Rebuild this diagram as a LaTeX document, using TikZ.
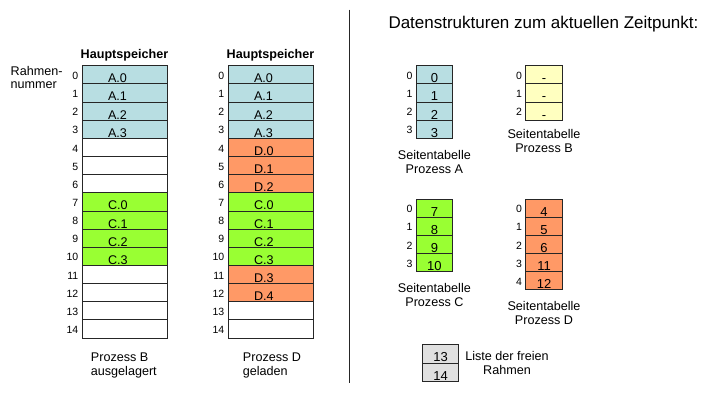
\documentclass[tikz,border=0pt]{standalone}
\usepackage{fontspec}
\setmainfont{Liberation Sans}
\usetikzlibrary{positioning}
\definecolor{pageA}{RGB}{184,222,226}
\definecolor{pageB}{RGB}{255,255,192}
\definecolor{pageC}{RGB}{153,255,51}
\definecolor{pageD}{RGB}{255,153,102}
\definecolor{freegray}{RGB}{224,224,224}
\tikzset{
  memcell/.style={
    rectangle,
    draw=black!85,
    line width=0.8pt,
    fill=white,
    minimum height=18.15pt,
    text width=85pt,
    inner sep=0pt,
    outer sep=0pt,
    text height=16pt,
    text depth=0pt,
    font=\fontsize{12.6}{14}\selectfont,
    execute at begin node={\noindent\hspace*{26pt}}
  },
  tabcell/.style={
    rectangle,
    draw=black!85,
    line width=0.8pt,
    minimum width=36.7pt,
    minimum height=18.15pt,
    inner sep=0pt,
    outer sep=0pt,
    text height=16pt,
    text depth=0pt,
    font=\fontsize{13}{14}\selectfont
  },
  rownum/.style={
    inner sep=0pt,
    yshift=-1pt,
    font=\fontsize{10.5}{12}\selectfont
  },
  caption/.style={
    inner sep=0pt,
    align=center,
    font=\fontsize{12.6}{14}\selectfont
  },
  heading/.style={
    inner sep=0pt,
    font=\fontsize{12.6}{14}\selectfont\bfseries
  }
}
\begin{document}
\begin{tikzpicture}[x=1pt, y=-1pt, label distance=3.5pt]
  \useasboundingbox (0,0) rectangle (704,402);

  % title and divider
  \node[anchor=base west, inner sep=0pt, font=\fontsize{17}{20}\selectfont] (title) at (388.3,28.3) {Datenstrukturen zum aktuellen Zeitpunkt:};
  \coordinate (divtop) at (349.5,9.5);
  \coordinate (divbot) at (349.5,383);
  \draw[black!85, line width=1pt] (divtop) -- (divbot);

  % main memory, process B swapped out
  \node[memcell, fill=pageA, label={[rownum]left:0}] (lm0) at (124.5,74.8) {A.0};
  \node[memcell, fill=pageA, label={[rownum]left:1}, below=0pt of lm0] (lm1) {A.1};
  \node[memcell, fill=pageA, label={[rownum]left:2}, below=0pt of lm1] (lm2) {A.2};
  \node[memcell, fill=pageA, label={[rownum]left:3}, below=0pt of lm2] (lm3) {A.3};
  \node[memcell, label={[rownum]left:4}, below=0pt of lm3] (lm4) {};
  \node[memcell, label={[rownum]left:5}, below=0pt of lm4] (lm5) {};
  \node[memcell, label={[rownum]left:6}, below=0pt of lm5] (lm6) {};
  \node[memcell, fill=pageC, label={[rownum]left:7}, below=0pt of lm6] (lm7) {C.0};
  \node[memcell, fill=pageC, label={[rownum]left:8}, below=0pt of lm7] (lm8) {C.1};
  \node[memcell, fill=pageC, label={[rownum]left:9}, below=0pt of lm8] (lm9) {C.2};
  \node[memcell, fill=pageC, label={[rownum]left:10}, below=0pt of lm9] (lm10) {C.3};
  \node[memcell, label={[rownum]left:11}, below=0pt of lm10] (lm11) {};
  \node[memcell, label={[rownum]left:12}, below=0pt of lm11] (lm12) {};
  \node[memcell, label={[rownum]left:13}, below=0pt of lm12] (lm13) {};
  \node[memcell, label={[rownum]left:14}, below=0pt of lm13] (lm14) {};

  \node[heading, above=4.5pt of lm0] (lhead) {Hauptspeicher};
  \node[caption, align=left, anchor=north west, font=\fontsize{12.6}{13}\selectfont] (rahmen) at (10.5,66) {Rahmen-\\nummer};
  \node[caption, align=left, anchor=north west] (lcap) at (90.7,352.3) {Prozess B\\ausgelagert};

  % main memory, process D loaded
  \node[memcell, fill=pageA, label={[rownum]left:0}] (rm0) at (270.5,74.8) {A.0};
  \node[memcell, fill=pageA, label={[rownum]left:1}, below=0pt of rm0] (rm1) {A.1};
  \node[memcell, fill=pageA, label={[rownum]left:2}, below=0pt of rm1] (rm2) {A.2};
  \node[memcell, fill=pageA, label={[rownum]left:3}, below=0pt of rm2] (rm3) {A.3};
  \node[memcell, fill=pageD, label={[rownum]left:4}, below=0pt of rm3] (rm4) {D.0};
  \node[memcell, fill=pageD, label={[rownum]left:5}, below=0pt of rm4] (rm5) {D.1};
  \node[memcell, fill=pageD, label={[rownum]left:6}, below=0pt of rm5] (rm6) {D.2};
  \node[memcell, fill=pageC, label={[rownum]left:7}, below=0pt of rm6] (rm7) {C.0};
  \node[memcell, fill=pageC, label={[rownum]left:8}, below=0pt of rm7] (rm8) {C.1};
  \node[memcell, fill=pageC, label={[rownum]left:9}, below=0pt of rm8] (rm9) {C.2};
  \node[memcell, fill=pageC, label={[rownum]left:10}, below=0pt of rm9] (rm10) {C.3};
  \node[memcell, fill=pageD, label={[rownum]left:11}, below=0pt of rm10] (rm11) {D.3};
  \node[memcell, fill=pageD, label={[rownum]left:12}, below=0pt of rm11] (rm12) {D.4};
  \node[memcell, label={[rownum]left:13}, below=0pt of rm12] (rm13) {};
  \node[memcell, label={[rownum]left:14}, below=0pt of rm13] (rm14) {};

  \node[heading, above=4.5pt of rm0] (rhead) {Hauptspeicher};
  \node[caption, align=left, anchor=north west] (rcap) at (242.7,352.3) {Prozess D\\geladen};

  % page tables
  \node[tabcell, fill=pageA, label={[rownum]left:0}] (ta0) at (434.4,74.8) {0};
  \node[tabcell, fill=pageA, label={[rownum]left:1}, below=0pt of ta0] (ta1) {1};
  \node[tabcell, fill=pageA, label={[rownum]left:2}, below=0pt of ta1] (ta2) {2};
  \node[tabcell, fill=pageA, label={[rownum]left:3}, below=0pt of ta2] (ta3) {3};
  \node[caption, below=11.5pt of ta3] (tacap) {Seitentabelle\\Prozess A};

  \node[tabcell, fill=pageB, label={[rownum]left:0}] (tb0) at (544,74.8) {-};
  \node[tabcell, fill=pageB, label={[rownum]left:1}, below=0pt of tb0] (tb1) {-};
  \node[tabcell, fill=pageB, label={[rownum]left:2}, below=0pt of tb1] (tb2) {-};
  \node[caption, below=9pt of tb2] (tbcap) {Seitentabelle\\Prozess B};

  \node[tabcell, fill=pageC, label={[rownum]left:0}] (tc0) at (434.4,208.1) {7};
  \node[tabcell, fill=pageC, label={[rownum]left:1}, below=0pt of tc0] (tc1) {8};
  \node[tabcell, fill=pageC, label={[rownum]left:2}, below=0pt of tc1] (tc2) {9};
  \node[tabcell, fill=pageC, label={[rownum]left:3}, below=0pt of tc2] (tc3) {10};
  \node[caption, below=11.5pt of tc3] (tccap) {Seitentabelle\\Prozess C};

  \node[tabcell, fill=pageD, label={[rownum]left:0}] (td0) at (544,208.1) {4};
  \node[tabcell, fill=pageD, label={[rownum]left:1}, below=0pt of td0] (td1) {5};
  \node[tabcell, fill=pageD, label={[rownum]left:2}, below=0pt of td1] (td2) {6};
  \node[tabcell, fill=pageD, label={[rownum]left:3}, below=0pt of td2] (td3) {11};
  \node[tabcell, fill=pageD, label={[rownum]left:4}, below=0pt of td3] (td4) {12};
  \node[caption, below=11.5pt of td4] (tdcap) {Seitentabelle\\Prozess D};

  % free frame list
  \node[tabcell, fill=freegray, minimum height=18.7pt, text height=16.5pt] (fr0) at (440.5,353.65) {13};
  \node[tabcell, fill=freegray, minimum height=18.7pt, text height=16.5pt, below=0pt of fr0] (fr1) {14};
  \node[caption, anchor=north] (frcap) at (507,350.7) {Liste der freien\\Rahmen};
\end{tikzpicture}
\end{document}
